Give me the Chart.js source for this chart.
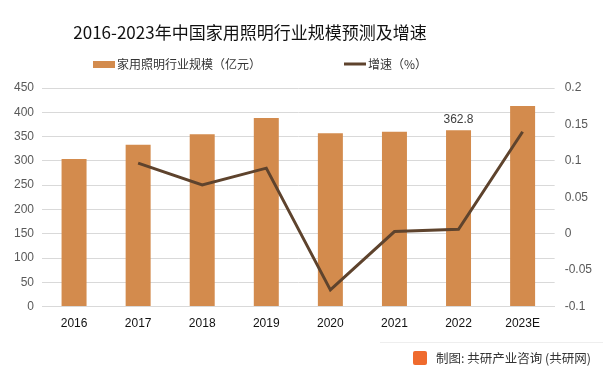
<!DOCTYPE html>
<html>
<head>
<meta charset="utf-8">
<script src="https://cdn.jsdelivr.net/npm/chart.js"></script>
<style>
  body { margin:0; background:#fff; }
  #wrap { position:relative; width:603px; height:375px; overflow:hidden; font-family:"Noto Sans CJK SC", sans-serif; }
  #chart { position:absolute; left:0; top:0; }
  #title { position:absolute; left:0; width:500px; top:19px; text-align:center; font-size:17px; color:#111; }
  #footer { position:absolute; right:12px; top:348px; font-size:12.5px; color:#333; display:flex; align-items:center; }
  #footer .logo { width:14px; height:14px; background:#ef6a2d; border-radius:2px; margin-right:9px; }
  #footline { position:absolute; left:380px; right:0; top:342px; border-top:1px solid #eee; }
</style>
</head>
<body>
<div id="wrap">
  <canvas id="chart" width="603" height="375"></canvas>
  <div id="title">2016-2023年中国家用照明行业规模预测及增速</div>
  <div id="footline"></div>
  <div id="footer"><span class="logo"></span>制图: 共研产业咨询 (共研网)</div>
</div>
<script>
// data
const years = ['2016', '2017', '2018', '2019', '2020', '2021', '2022', '2023E'];
const marketSize = [304, 333, 355, 388, 357, 360, 362.8, 413];
const growth = [null, 0.097, 0.067, 0.090, -0.077, 0.003, 0.006, 0.140];
const sizeLabel = '家用照明行业规模（亿元）';
const growthLabel = '增速（%）';
const labelledYear = '2022';

const barColor = '#D38B4D';
const lineColor = '#5E432D';
const tickFont = { family: '"Liberation Sans", "Noto Sans", sans-serif', size: 12 };

// custom legend, placed like the original (left of center)
const legendPlugin = {
  id: 'customLegend',
  afterDraw(chart) {
    const ctx = chart.ctx;
    ctx.save();
    ctx.font = '12px "Noto Sans CJK SC", sans-serif';
    ctx.textBaseline = 'middle';
    const y = 64;
    ctx.fillStyle = barColor;
    ctx.fillRect(93, y - 3, 22, 7);
    ctx.fillStyle = '#333';
    ctx.fillText(chart.data.datasets[0].label, 117, y);
    ctx.strokeStyle = lineColor;
    ctx.lineWidth = 3;
    ctx.beginPath();
    ctx.moveTo(344, y);
    ctx.lineTo(366, y);
    ctx.stroke();
    ctx.fillText(chart.data.datasets[1].label, 368, y);
    ctx.restore();
  }
};

// value label over one bar
const barLabelPlugin = {
  id: 'barLabel',
  afterDatasetsDraw(chart) {
    const idx = years.indexOf(labelledYear);
    const el = chart.getDatasetMeta(0).data[idx];
    const ctx = chart.ctx;
    ctx.save();
    ctx.font = '12px "Liberation Sans", "Noto Sans", sans-serif';
    ctx.fillStyle = '#404040';
    ctx.textAlign = 'center';
    ctx.textBaseline = 'bottom';
    ctx.fillText(String(marketSize[idx]), el.x, el.y - 5);
    ctx.restore();
  }
};

new Chart(document.getElementById('chart').getContext('2d'), {
  data: {
    labels: years,
    datasets: [
      {
        type: 'bar',
        label: sizeLabel,
        data: marketSize,
        yAxisID: 'y',
        backgroundColor: barColor,
        categoryPercentage: 1,
        barPercentage: 0.39,
        order: 1
      },
      {
        type: 'line',
        label: growthLabel,
        data: growth,
        yAxisID: 'y1',
        borderColor: lineColor,
        borderWidth: 3,
        pointRadius: 0,
        tension: 0,
        order: 0
      }
    ]
  },
  plugins: [legendPlugin, barLabelPlugin],
  options: {
    responsive: false,
    animation: false,
    layout: { padding: { top: 88, bottom: 34, left: 6, right: 1 } },
    plugins: {
      legend: { display: false },
      title: { display: false },
      tooltip: { enabled: false }
    },
    scales: {
      x: {
        grid: { display: false, drawTicks: false },
        border: { color: '#d9d9d9' },
        ticks: { color: '#111', font: tickFont, padding: 10 }
      },
      y: {
        position: 'left',
        min: 0, max: 450,
        ticks: { stepSize: 50, color: '#595959', font: tickFont, padding: 8 },
        grid: { color: '#d9d9d9', drawTicks: false },
        border: { display: false }
      },
      y1: {
        position: 'right',
        min: -0.1, max: 0.2,
        ticks: { stepSize: 0.05, color: '#595959', font: tickFont, padding: 10,
                 callback: v => Math.round(v * 100) / 100 },
        grid: { display: false, drawTicks: false },
        border: { display: false }
      }
    }
  }
});
</script>
</body>
</html>
